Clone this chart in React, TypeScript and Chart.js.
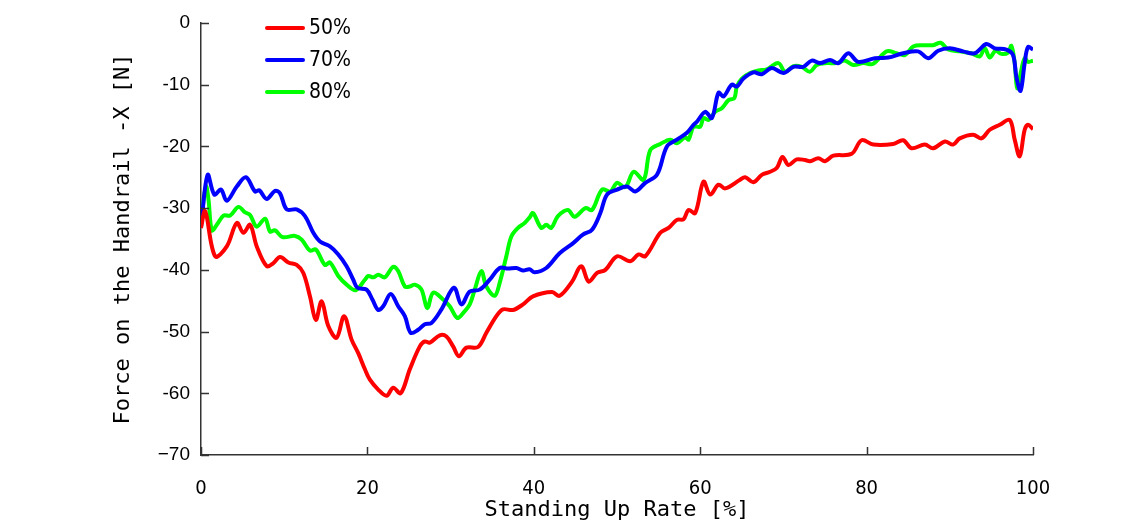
import React, { useEffect, useRef } from "react";
import { Chart, registerables } from "chart.js";

Chart.register(...registerables);

// Standing up rate [%] vs force [N]
const series50: [number, number][] = [
  [0, -33.2], [0.5, -30.5], [1.7, -37.8], [3.1, -36.2], [4.3, -32.4], [5.1, -34.0], [5.9, -32.7], [6.7, -36.2],
  [7.9, -39.4], [8.7, -38.9], [9.5, -37.9], [10.5, -38.8], [11.5, -39.2], [12.3, -40.5], [13.1, -44.3], [13.8, -48.1],
  [14.5, -45.1], [15.3, -49.1], [16.3, -51.0], [17.2, -47.5], [18.1, -51.3], [18.9, -53.5], [19.7, -56.1], [20.3, -57.8],
  [21.3, -59.4], [22.3, -60.4], [23.1, -59.1], [24.0, -60.0], [25.1, -56.1], [26.3, -52.4], [26.9, -51.6], [27.5, -51.8],
  [28.7, -50.6], [29.5, -50.8], [30.3, -52.4], [31.0, -54.0], [31.9, -52.6], [33.3, -52.5], [34.3, -50.2], [35.5, -47.5],
  [36.3, -46.4], [37.5, -46.5], [38.7, -45.6], [39.9, -44.3], [42.2, -43.6], [43.1, -44.2], [44.6, -41.9], [45.7, -39.4],
  [46.6, -41.9], [47.6, -40.5], [48.6, -40.0], [50.0, -37.8], [51.6, -38.6], [52.6, -37.5], [53.4, -37.8], [55.2, -34.0],
  [56.2, -33.2], [57.2, -31.9], [58.0, -31.8], [58.6, -30.3], [59.4, -30.8], [60.4, -25.7], [61.2, -27.8], [62.2, -26.2],
  [63.0, -26.8], [64.8, -25.4], [65.4, -25.0], [66.4, -25.8], [67.4, -24.6], [68.4, -24.1], [69.2, -23.5], [69.9, -21.7],
  [70.6, -23.0], [71.6, -22.1], [72.6, -22.2], [73.2, -22.4], [74.2, -21.9], [75.0, -22.4], [76.0, -21.5], [78.2, -21.2],
  [79.4, -19.0], [80.8, -19.7], [83.2, -19.6], [84.4, -19.0], [85.4, -20.3], [87.0, -19.7], [88.0, -20.3], [89.4, -19.2],
  [90.4, -19.7], [91.2, -18.7], [92.8, -18.1], [93.8, -18.7], [94.8, -17.3], [96.0, -16.5], [97.2, -15.7], [97.8, -18.9],
  [98.4, -21.6], [99.0, -17.3], [99.4, -16.5], [100, -17.2],
];

const series70: [number, number][] = [
  [0, -33.0], [0.8, -24.6], [1.6, -27.8], [2.4, -27.0], [3.1, -28.8], [4.3, -26.5], [5.4, -25.0], [6.5, -27.3],
  [7.0, -27.1], [7.9, -28.5], [8.9, -27.2], [9.5, -27.6], [10.3, -30.2], [11.5, -30.2], [12.5, -31.3], [13.5, -34.0],
  [14.3, -35.4], [15.5, -36.2], [16.5, -37.5], [17.5, -39.4], [18.3, -41.6], [18.8, -42.9], [19.9, -43.2], [20.6, -44.8],
  [21.3, -46.5], [21.9, -45.9], [22.8, -43.9], [23.7, -45.9], [24.5, -47.5], [25.2, -50.2], [26.1, -49.7], [26.9, -48.8],
  [27.7, -48.6], [28.9, -46.4], [30.4, -42.9], [31.3, -45.6], [32.3, -43.5], [33.5, -43.2], [34.7, -41.6], [35.9, -39.7],
  [36.9, -39.8], [37.9, -39.7], [38.7, -40.1], [39.5, -39.9], [40.1, -40.4], [41.5, -39.7], [43.1, -37.3], [44.7, -35.7],
  [45.9, -34.3], [47.0, -33.5], [48.0, -30.8], [48.8, -27.8], [50.0, -27.0], [51.2, -26.5], [52.2, -27.3], [53.4, -25.9],
  [54.8, -24.6], [56.0, -20.0], [57.2, -18.9], [58.4, -17.8], [59.2, -16.5], [59.6, -16.0], [60.6, -14.4], [61.4, -15.4],
  [62.2, -11.3], [62.8, -11.9], [63.8, -10.0], [64.4, -10.3], [65.2, -9.0], [66.4, -8.0], [67.4, -8.3], [68.6, -7.3],
  [70.0, -8.1], [71.2, -7.1], [72.4, -7.1], [73.4, -6.1], [74.4, -6.5], [75.6, -6.0], [76.6, -6.5], [77.8, -4.9],
  [79.0, -6.3], [81.0, -5.7], [82.6, -5.6], [84.4, -4.9], [86.2, -4.6], [87.4, -5.7], [88.6, -4.5], [90.0, -4.1],
  [91.6, -4.6], [93.0, -4.9], [94.4, -3.4], [95.4, -4.1], [96.8, -4.3], [97.6, -5.2], [98.0, -8.7], [98.5, -11.0],
  [99.0, -6.5], [99.4, -3.9], [100, -4.3],
];

const series80: [number, number][] = [
  [0, -31.9], [0.6, -26.5], [0.9, -28.6], [1.3, -33.6], [1.9, -32.7], [2.7, -31.2], [3.5, -31.2], [4.5, -29.8],
  [5.3, -30.7], [5.9, -31.1], [6.7, -33.0], [7.7, -31.7], [8.3, -33.8], [8.9, -33.6], [9.8, -34.7], [11.3, -34.5],
  [12.1, -35.1], [13.1, -36.9], [13.8, -36.7], [14.9, -39.2], [15.5, -38.8], [16.5, -41.0], [17.5, -42.4], [18.6, -43.3],
  [19.7, -41.6], [20.1, -41.0], [20.7, -41.2], [21.3, -40.8], [22.1, -41.2], [23.1, -39.5], [23.7, -40.2], [24.5, -42.7],
  [25.1, -42.7], [25.7, -42.4], [26.5, -43.2], [27.2, -46.2], [27.9, -43.7], [29.1, -44.8], [29.9, -45.9], [30.8, -47.8],
  [31.5, -47.0], [32.3, -45.6], [32.9, -43.2], [33.7, -40.2], [34.3, -42.7], [35.3, -44.2], [35.9, -42.1], [36.7, -37.8],
  [37.3, -34.6], [38.1, -33.2], [38.9, -32.4], [39.5, -31.5], [39.9, -30.8], [40.9, -33.2], [41.5, -32.7], [42.1, -33.2],
  [42.9, -31.3], [44.1, -30.3], [44.9, -31.4], [46.2, -30.0], [47.0, -30.3], [48.2, -27.0], [49.2, -27.3], [50.0, -25.9],
  [51.0, -26.6], [52.0, -24.1], [53.2, -25.4], [54.0, -20.6], [55.2, -19.6], [56.4, -18.9], [57.2, -19.5], [58.2, -18.5],
  [58.6, -18.9], [59.2, -16.8], [60.0, -16.8], [60.4, -15.4], [61.0, -15.7], [61.8, -14.4], [62.6, -13.8], [63.4, -12.5],
  [64.1, -12.2], [64.4, -10.3], [65.0, -9.0], [66.0, -8.1], [67.0, -7.7], [68.0, -7.5], [69.4, -6.5], [70.2, -7.9],
  [71.2, -7.0], [72.2, -7.1], [73.2, -7.9], [74.0, -6.8], [75.2, -6.5], [76.4, -6.5], [77.4, -6.1], [78.4, -6.8],
  [79.6, -6.5], [80.8, -6.6], [82.4, -4.6], [83.6, -4.9], [84.6, -5.2], [85.6, -3.8], [86.8, -3.6], [88.0, -3.6],
  [88.9, -3.2], [89.8, -4.3], [91.2, -4.6], [92.6, -4.9], [93.6, -5.4], [94.2, -4.1], [94.8, -5.6], [95.5, -4.5],
  [96.2, -5.0], [97.0, -4.8], [97.4, -3.7], [97.8, -6.5], [98.1, -10.6], [98.6, -7.6], [99.0, -5.7], [99.4, -6.3],
  [100, -6.1],
];

const seriesLabels = ["50%", "70%", "80%"];
const seriesColors = ["#ff0000", "#0000ff", "#00ff00"];
const xTickValues = [0, 20, 40, 60, 80, 100];
const yTickValues = [0, -10, -20, -30, -40, -50, -60, -70];
const yTickLabels = ["0", "-10", "-20", "-30", "-40", "-50", "-60", "\u221270"];
const xTitle = "Standing Up Rate [%]";
const yTitle = "Force on the Handrail -X [N]";

const NARROW = "'Liberation Sans Narrow', 'DejaVu Sans Condensed', 'Liberation Sans', sans-serif";
const MONO = "'DejaVu Sans Mono', 'Liberation Mono', monospace";

const innerTicks = {
  id: "innerTicks",
  afterDraw(chart: any) {
    const { ctx, chartArea, scales } = chart;
    ctx.save();
    ctx.strokeStyle = "#333";
    ctx.lineWidth = 1.5;
    ctx.beginPath();
    for (const v of yTickValues) {
      const py = Math.round(scales.y.getPixelForValue(v)) + 0.5;
      ctx.moveTo(chartArea.left, py);
      ctx.lineTo(chartArea.left + 8, py);
    }
    for (const v of xTickValues) {
      const px = Math.round(scales.x.getPixelForValue(v)) + 0.5;
      ctx.moveTo(px, chartArea.bottom);
      ctx.lineTo(px, chartArea.bottom - 8);
    }
    ctx.stroke();
    ctx.restore();
  },
};

const innerLegend = {
  id: "innerLegend",
  afterDraw(chart: any) {
    const { ctx } = chart;
    ctx.save();
    chart.data.datasets.forEach((ds: any, i: number) => {
      const y = 28 + i * 32;
      ctx.strokeStyle = ds.borderColor;
      ctx.lineWidth = 4;
      ctx.lineCap = "round";
      ctx.beginPath();
      ctx.moveTo(267, y);
      ctx.lineTo(303, y);
      ctx.stroke();
      ctx.fillStyle = "#000";
      ctx.font = `21px ${NARROW}`;
      ctx.textBaseline = "middle";
      ctx.textAlign = "left";
      ctx.fillText(ds.label, 309, y + 1);
    });
    ctx.restore();
  },
};

export default function App() {
  const canvasRef = useRef<HTMLCanvasElement | null>(null);

  useEffect(() => {
    document.body.style.margin = "0";
    const canvas = canvasRef.current;
    if (!canvas) return;
    const all = [series50, series70, series80];
    const chart = new Chart(canvas, {
      type: "line",
      data: {
        datasets: all.map((s, i) => ({
          label: seriesLabels[i],
          data: s.map(([x, y]) => ({ x, y })),
          borderColor: seriesColors[i],
          backgroundColor: seriesColors[i],
          borderWidth: 4,
          pointRadius: 0,
          tension: 0.35,
          fill: false,
        })),
      },
      options: {
        animation: false,
        responsive: true,
        maintainAspectRatio: false,
        devicePixelRatio: 1,
        layout: { padding: { top: 23, right: 105, bottom: 0, left: 0 } },
        plugins: {
          legend: { display: false },
          tooltip: { enabled: false },
        },
        scales: {
          x: {
            type: "linear",
            min: 0,
            max: 100,
            afterFit: (scale: any) => {
              scale.height = 67;
            },
            afterBuildTicks: (scale: any) => {
              scale.ticks = xTickValues.map((v) => ({ value: v }));
            },
            grid: { display: true, drawOnChartArea: false, drawTicks: false },
            border: { display: true, color: "#333", width: 1.5 },
            ticks: {
              padding: 22,
              color: "#000",
              font: { family: NARROW, size: 20 },
              maxRotation: 0,
              callback: (v: any) => String(v),
            },
            title: {
              display: true,
              text: xTitle,
              color: "#000",
              font: { family: MONO, size: 22, lineHeight: 1 },
              padding: { top: 0, bottom: 1 },
            },
          },
          y: {
            type: "linear",
            min: -70,
            max: 0,
            afterFit: (scale: any) => {
              scale.width = 201;
            },
            afterBuildTicks: (scale: any) => {
              scale.ticks = yTickValues.map((v) => ({ value: v }));
            },
            grid: { display: true, drawOnChartArea: false, drawTicks: false },
            border: { display: true, color: "#333", width: 1.5 },
            ticks: {
              padding: 11,
              color: "#000",
              font: { family: "'Liberation Sans', Arial, sans-serif", size: 19 },
              callback: (v: any) => {
                const idx = yTickValues.indexOf(Number(v));
                return idx >= 0 ? yTickLabels[idx] : "";
              },
            },
            title: {
              display: true,
              text: yTitle,
              color: "#000",
              font: { family: MONO, size: 22, lineHeight: 1.2 },
              padding: { top: 110, bottom: 0 },
            },
          },
        },
      },
      plugins: [innerTicks, innerLegend],
    } as any);
    return () => chart.destroy();
  }, []);

  return (
    <div style={{ position: "relative", width: 1138, height: 522 }}>
      <canvas ref={canvasRef} />
    </div>
  );
}
